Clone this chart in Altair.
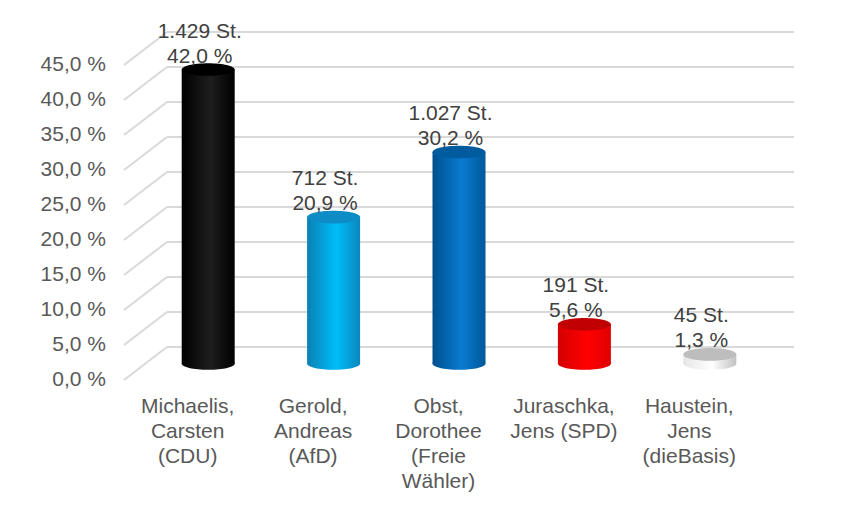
import altair as alt
import pandas as pd

# ---- data ----
candidates = [
    "Michaelis,\nCarsten\n(CDU)",
    "Gerold,\nAndreas\n(AfD)",
    "Obst,\nDorothee\n(Freie\nWähler)",
    "Juraschka,\nJens (SPD)",
    "Haustein,\nJens\n(dieBasis)",
]
votes = [1429, 712, 1027, 191, 45]
percents = [42.0, 20.9, 30.2, 5.6, 1.3]
cap_colors = ["#000000", "#0e8cc6", "#005b9f", "#c00000", "#bdbdbd"]
body_colors = [
    ["#000000", "#1e1e1e", "#000000"],
    ["#0a80b5", "#00bdf8", "#0b86bd"],
    ["#00508f", "#0a7bd0", "#00589a"],
    ["#d40000", "#ff0000", "#e00000"],
    ["#e6e6e6", "#ffffff", "#c2c2c2"],
]
tick_values = [0, 5, 10, 15, 20, 25, 30, 35, 40, 45]
tick_labels = ["0,0 %", "5,0 %", "10,0 %", "15,0 %", "20,0 %",
               "25,0 %", "30,0 %", "35,0 %", "40,0 %", "45,0 %"]

FONT = "Liberation Sans"
GRID = "#d9d9d9"
DEPTH_X, DEPTH_Y = 43, -33          # back wall offset (3D look)
MID_X, MID_Y = DEPTH_X / 2, DEPTH_Y / 2
BAR_W = 53
LINE_H = 25

def vlabel(v, p):
    return f"{v:,}".replace(",", ".") + " St.\n" + f"{p:.1f}".replace(".", ",") + " %"

df = pd.DataFrame({
    "idx": list(range(len(candidates))),
    "pos": [i + 0.5 for i in range(len(candidates))],
    "cat": candidates,
    "pct": percents,
    "lab": [vlabel(v, p) for v, p in zip(votes, percents)],
})
ticks = pd.DataFrame({"v": tick_values, "lab": tick_labels})

XS = alt.Scale(domain=[0, 5], range=[111, 748], nice=False, zero=False)
YS = alt.Scale(domain=[0, 45], range=[372, 57], nice=False, zero=False)

ELL = ("M-1,0 C-1,-0.1325 -0.5523,-0.24 0,-0.24 C0.5523,-0.24 1,-0.1325 1,0 "
       "C1,0.1325 0.5523,0.24 0,0.24 C-0.5523,0.24 -1,0.1325 -1,0 Z")

def grad(cols):
    return alt.LinearGradient(
        gradient="linear", x1=0, x2=1, y1=0, y2=0,
        stops=[alt.GradientStop(color=cols[0], offset=0),
               alt.GradientStop(color=cols[1], offset=0.55),
               alt.GradientStop(color=cols[2], offset=1)])

layers = []

# diagonal side-wall gridlines
layers.append(
    alt.Chart(ticks).mark_rule(color=GRID, strokeWidth=2,
                               x2Offset=DEPTH_X, y2Offset=DEPTH_Y).encode(
        x=alt.XDatum(0, scale=XS, axis=None),
        x2=alt.X2Datum(0),
        y=alt.Y("v:Q", scale=YS, axis=None),
        y2=alt.Y2("v:Q"),
    )
)
# back-wall gridlines
layers.append(
    alt.Chart(ticks).mark_rule(color=GRID, strokeWidth=2,
                               xOffset=DEPTH_X, x2Offset=DEPTH_X,
                               yOffset=DEPTH_Y).encode(
        x=alt.XDatum(0, scale=XS, axis=None),
        x2=alt.X2Datum(5),
        y=alt.Y("v:Q", scale=YS, axis=None),
    )
)
# y axis labels
layers.append(
    alt.Chart(ticks).mark_text(align="right", baseline="middle", dx=-18,
                               font=FONT, fontSize=21, color="#595959").encode(
        x=alt.XDatum(0, scale=XS, axis=None),
        y=alt.Y("v:Q", scale=YS, axis=None),
        text="lab:N",
    )
)
# category labels
layers.append(
    alt.Chart(df).mark_text(align="center", baseline="top", dy=16, dx=1,
                            lineBreak="\n", lineHeight=LINE_H,
                            font=FONT, fontSize=21, color="#595959").encode(
        x=alt.X("pos:Q", scale=XS, axis=None),
        y=alt.YDatum(0, scale=YS, axis=None),
        text="cat:N",
    )
)

# cylinders
for i in range(len(candidates)):
    base = alt.Chart(df).transform_filter(alt.datum.idx == i)
    g = grad(body_colors[i])
    layers.append(
        base.mark_point(shape=ELL, size=BAR_W ** 2, filled=True, fill=g,
                        strokeWidth=0, opacity=1,
                        xOffset=MID_X, yOffset=MID_Y).encode(
            x=alt.X("pos:Q", scale=XS, axis=None),
            y=alt.YDatum(0, scale=YS, axis=None),
        )
    )
    layers.append(
        base.mark_bar(width=BAR_W, fill=g, strokeWidth=0,
                      xOffset=MID_X, yOffset=MID_Y, y2Offset=MID_Y).encode(
            x=alt.X("pos:Q", scale=XS, axis=None),
            y=alt.Y("pct:Q", scale=YS, axis=None),
            y2=alt.Y2Datum(0),
        )
    )
    layers.append(
        base.mark_point(shape=ELL, size=BAR_W ** 2, filled=True,
                        fill=cap_colors[i], strokeWidth=0, opacity=1,
                        xOffset=MID_X, yOffset=MID_Y).encode(
            x=alt.X("pos:Q", scale=XS, axis=None),
            y=alt.Y("pct:Q", scale=YS, axis=None),
        )
    )

# value labels
layers.append(
    alt.Chart(df).mark_text(align="center", baseline="bottom",
                            dx=13, dy=MID_Y - 3 - LINE_H,
                            lineBreak="\n", lineHeight=LINE_H,
                            font=FONT, fontSize=21, color="#404040").encode(
        x=alt.X("pos:Q", scale=XS, axis=None),
        y=alt.Y("pct:Q", scale=YS, axis=None),
        text="lab:N",
    )
)

chart = alt.layer(*layers).properties(
    width=834, height=490, padding=0,
    autosize=alt.AutoSizeParams(type="none"),
    background="white",
).configure_view(stroke=None)

chart.save("out.html", embed_options={"renderer": "svg", "actions": False})
